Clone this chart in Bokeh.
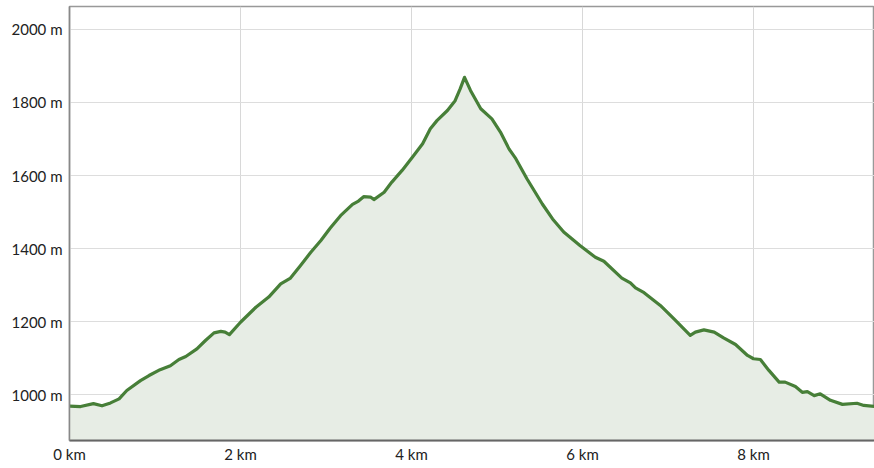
from bokeh.plotting import figure
from bokeh.models import Range1d, FixedTicker, CustomJSTickFormatter
from bokeh.embed import file_html
from bokeh.resources import INLINE

# distance along the track (km) and elevation (m)
dist_km = [0.00, 0.13, 0.28, 0.38, 0.48, 0.58, 0.67, 0.83, 0.93, 1.06, 1.18, 1.28,
           1.36, 1.49, 1.59, 1.69, 1.77, 1.82, 1.87, 2.00, 2.18, 2.33, 2.47, 2.58,
           2.70, 2.82, 2.94, 3.05, 3.17, 3.31, 3.38, 3.44, 3.52, 3.56, 3.68, 3.77,
           3.89, 4.01, 4.13, 4.22, 4.30, 4.42, 4.51, 4.57, 4.62, 4.69, 4.81, 4.94,
           5.04, 5.14, 5.22, 5.35, 5.53, 5.65, 5.78, 5.97, 6.15, 6.25, 6.46, 6.56,
           6.62, 6.72, 6.91, 7.07, 7.26, 7.32, 7.42, 7.54, 7.65, 7.79, 7.93, 8.00,
           8.08, 8.18, 8.30, 8.37, 8.49, 8.57, 8.63, 8.71, 8.78, 8.90, 9.04, 9.21,
           9.29, 9.42]
elev_m = [968, 967, 975, 969, 977, 988, 1011, 1038, 1052, 1068, 1079, 1096,
          1104, 1125, 1148, 1169, 1173, 1171, 1164, 1198, 1239, 1267, 1303, 1318,
          1353, 1389, 1422, 1456, 1490, 1521, 1530, 1542, 1541, 1534, 1554, 1582,
          1614, 1650, 1687, 1728, 1751, 1778, 1805, 1838, 1869, 1833, 1783, 1755,
          1719, 1673, 1646, 1591, 1522, 1481, 1445, 1408, 1376, 1365, 1319, 1306,
          1292, 1279, 1244, 1207, 1162, 1171, 1177, 1171, 1155, 1137, 1107, 1098,
          1096, 1066, 1034, 1034, 1022, 1006, 1008, 997, 1002, 984, 973, 976,
          970, 967]

x_ticks = [0, 2, 4, 6, 8]
y_ticks = [1000, 1200, 1400, 1600, 1800, 2000]

p = figure(width=874, height=468, output_backend="svg", toolbar_location=None,
           x_range=Range1d(0, 9.415), y_range=Range1d(874.0, 2063.0),
           min_border_left=69, min_border_right=0, min_border_top=6,
           min_border_bottom=28)

p.varea(x=dist_km, y1=[800] * len(dist_km), y2=elev_m, fill_color="#e7ede5")
p.line(x=dist_km, y=elev_m, line_color="#477f38", line_width=3.2,
       line_join="round", line_cap="round")

for ax in (p.xaxis[0], p.yaxis[0]):
    ax.major_tick_out = 0
    ax.major_tick_in = 0
    ax.minor_tick_out = 0
    ax.minor_tick_in = 0
    ax.major_label_text_font = "Lato"
    ax.major_label_text_font_size = "15px"
    ax.major_label_text_color = "#222222"

p.xaxis[0].ticker = FixedTicker(ticks=x_ticks)
p.yaxis[0].ticker = FixedTicker(ticks=y_ticks)
p.xaxis[0].formatter = CustomJSTickFormatter(code="return tick + ' km';")
p.yaxis[0].formatter = CustomJSTickFormatter(code="return tick + ' m';")
p.xaxis[0].axis_line_color = "#666666"
p.xaxis[0].axis_line_width = 2
p.yaxis[0].axis_line_color = "#888888"
p.yaxis[0].axis_line_width = 1.5
p.xaxis[0].major_label_standoff = 4
p.yaxis[0].major_label_standoff = 7

p.xgrid.grid_line_color = "#d8d8d8"
p.ygrid.grid_line_color = "#dddddd"
p.xgrid.grid_line_width = 1
p.ygrid.grid_line_width = 1

p.outline_line_color = "#999999"
p.outline_line_width = 1.5
p.background_fill_color = "white"
p.border_fill_color = "white"

open("out.html", "w").write(file_html(p, INLINE))
